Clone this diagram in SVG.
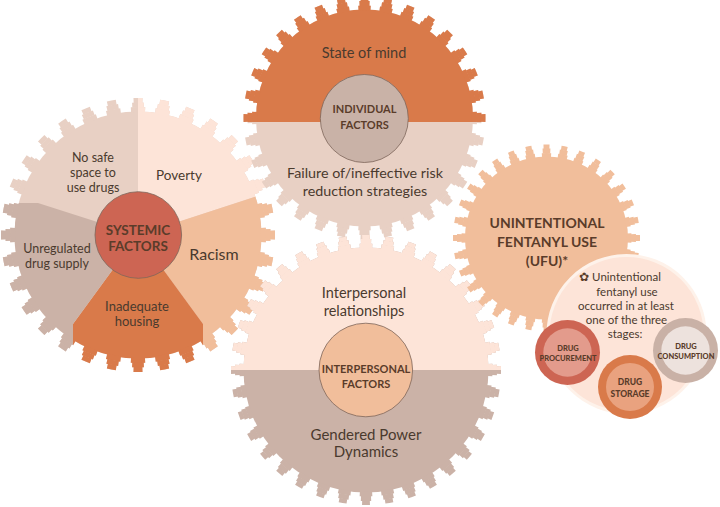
<svg xmlns="http://www.w3.org/2000/svg" width="720" height="507" viewBox="0 0 720 507">
<style>
.body{fill:currentColor}
.r1,.r2,.r3{fill:none;stroke:currentColor}
.r1{stroke-dasharray:0.58 0.42;stroke-dashoffset:0.29}
.r2{stroke-dasharray:0.46 0.54;stroke-dashoffset:0.23}
.r3{stroke-dasharray:0.34 0.66;stroke-dashoffset:0.17}
text{font-family:Lato,"Open Sans","Liberation Sans",sans-serif;fill:#4a3a2e;text-anchor:middle}
.hd{font-weight:700;fill:#5a3c2a}
.hub{stroke:#7d665b;stroke-width:0.8}
.sm{font-weight:900;fill:#5a3c2a}
</style>
<defs>
<g id="gearL">
<circle class="body" cx="138" cy="235" r="123.5"/>
<circle class="r1" cx="138" cy="235" r="125.25" stroke-width="5.5" pathLength="32"/>
<circle class="r2" cx="138" cy="235" r="130" stroke-width="5" pathLength="32"/>
<circle class="r3" cx="138" cy="235" r="134.5" stroke-width="5" pathLength="32"/>
</g>
<g id="gearT">
<circle class="body" cx="364.5" cy="118" r="108.5"/>
<circle class="r1" cx="364.5" cy="118" r="110" stroke-width="5" pathLength="32"/>
<circle class="r2" cx="364.5" cy="118" r="114.5" stroke-width="5" pathLength="32"/>
<circle class="r3" cx="364.5" cy="118" r="118.75" stroke-width="4.5" pathLength="32"/>
</g>
<g id="gearM">
<circle class="body" cx="366" cy="370" r="122.5"/>
<circle class="r1" cx="366" cy="370" r="124" stroke-width="5" pathLength="36"/>
<circle class="r2" cx="366" cy="370" r="128.5" stroke-width="5" pathLength="36"/>
<circle class="r3" cx="366" cy="370" r="132.75" stroke-width="4.5" pathLength="36"/>
</g>
<g id="gearU">
<circle class="body" cx="546.5" cy="238" r="81.5"/>
<circle class="r1" cx="546.5" cy="238" r="82.75" stroke-width="4.5" pathLength="32"/>
<circle class="r2" cx="546.5" cy="238" r="87" stroke-width="5" pathLength="32"/>
<circle class="r3" cx="546.5" cy="238" r="91.25" stroke-width="4.5" pathLength="32"/>
</g>
<clipPath id="cPov"><polygon points="138,235 138,80 300,80 300,182"/></clipPath>
<clipPath id="cRac"><polygon points="138,235 300,182 300,400 203,400 203,324"/></clipPath>
<clipPath id="cHou"><polygon points="138,235 203,324 203,400 73,400 73,324"/></clipPath>
<clipPath id="cUnr"><polygon points="138,235 73,324 73,400 -10,400 -10,203 38,203"/></clipPath>
<clipPath id="cTopHalf"><rect x="230" y="-10" width="270" height="132"/></clipPath>
<clipPath id="cMidHalf"><rect x="220" y="220" width="300" height="150"/></clipPath>
</defs>

<g id="systemic-factors">
<use href="#gearL" color="#e8d0c4"/>
<g clip-path="url(#cPov)"><use href="#gearL" color="#fde4d8"/></g>
<g clip-path="url(#cRac)"><use href="#gearL" color="#f1be9b"/></g>
<g clip-path="url(#cHou)"><use href="#gearL" color="#d97a4a"/></g>
<g clip-path="url(#cUnr)"><use href="#gearL" color="#cbb2a7"/></g>
<circle class="hub" cx="138.3" cy="235" r="43.3" fill="#cd6553"/>
<text font-size="12.5"><tspan x="93" y="162">No safe</tspan><tspan x="93" y="177">space to</tspan><tspan x="93" y="192">use drugs</tspan></text>
<text font-size="13.5" x="179" y="180">Poverty</text>
<text font-size="16" x="214" y="260">Racism</text>
<text font-size="12.5"><tspan x="57" y="253">Unregulated</tspan><tspan x="57" y="268">drug supply</tspan></text>
<text font-size="13"><tspan x="137" y="311">Inadequate</tspan><tspan x="137" y="326">housing</tspan></text>
<text class="hd" font-size="13.5"><tspan x="138" y="234.5">SYSTEMIC</tspan><tspan x="138" y="251">FACTORS</tspan></text>
</g>

<g id="individual-factors">
<use href="#gearT" color="#e8d0c4"/>
<g clip-path="url(#cTopHalf)"><use href="#gearT" color="#d97a4a"/></g>
<circle class="hub" cx="364.3" cy="118.5" r="44" fill="#c9b2a7"/>
<text font-size="14.5" x="364" y="57.5">State of mind</text>
<text class="hd" font-size="11"><tspan x="364.5" y="113">INDIVIDUAL</tspan><tspan x="364.5" y="128.5">FACTORS</tspan></text>
<text font-size="14.3"><tspan x="365" y="177.5">Failure of/ineffective risk</tspan><tspan x="365" y="196">reduction strategies</tspan></text>
</g>

<g id="interpersonal-factors">
<use href="#gearM" color="#cbb2a7"/>
<g clip-path="url(#cMidHalf)"><use href="#gearM" color="#fde4d8"/></g>
<circle class="hub" cx="365.8" cy="370" r="46.8" fill="#f1be9b"/>
<text font-size="14.5"><tspan x="364" y="297.5">Interpersonal</tspan><tspan x="364" y="316">relationships</tspan></text>
<text class="hd" font-size="11"><tspan x="366" y="373">INTERPERSONAL</tspan><tspan x="366" y="387.5">FACTORS</tspan></text>
<text font-size="15"><tspan x="366" y="439.5">Gendered Power</tspan><tspan x="366" y="457">Dynamics</tspan></text>
</g>

<g id="ufu">
<use href="#gearU" color="#f1be9b"/>
<text class="hd" font-size="14"><tspan x="547" y="228">UNINTENTIONAL</tspan><tspan x="547" y="246.5">FENTANYL USE</tspan><tspan x="547" y="266">(UFU)*</tspan></text>
</g>

<g id="ufu-note">
<circle cx="626.5" cy="334" r="78.5" fill="#fde4d8" stroke="#fef2ea" stroke-width="3"/>
<text font-size="11.5"><tspan x="620" y="281"><tspan font-family="DejaVu Sans" font-size="12" fill="#5a3c2a">✿</tspan> Unintentional</tspan><tspan x="627" y="295.5">fentanyl use</tspan><tspan x="626" y="309.5">occurred in at least</tspan><tspan x="626.5" y="323.5">one of the three</tspan><tspan x="625" y="337.5">stages:</tspan></text>
</g>

<g id="drug-procurement">
<circle cx="567.5" cy="352.5" r="32.5" fill="#cd6553"/>
<circle cx="567.5" cy="352.5" r="24.2" fill="#e39b8c"/>
<text class="sm" font-size="7.5"><tspan x="568" y="351">DRUG</tspan><tspan x="568" y="361">PROCUREMENT</tspan></text>
</g>

<g id="drug-consumption">
<circle cx="685.5" cy="350.5" r="32.5" fill="#c9b1a6"/>
<circle cx="685.5" cy="350.5" r="24.2" fill="#ede2dd"/>
<text class="sm" font-size="7.5"><tspan x="686" y="348.5">DRUG</tspan><tspan x="686" y="358.5">CONSUMPTION</tspan></text>
</g>

<g id="drug-storage">
<circle cx="630" cy="387" r="32" fill="#d97a4a"/>
<circle cx="630" cy="387" r="24" fill="#e9a27f"/>
<text class="sm" font-size="8.5"><tspan x="630" y="385">DRUG</tspan><tspan x="630" y="396.5">STORAGE</tspan></text>
</g>

<g id="connectors"/>
</svg>
